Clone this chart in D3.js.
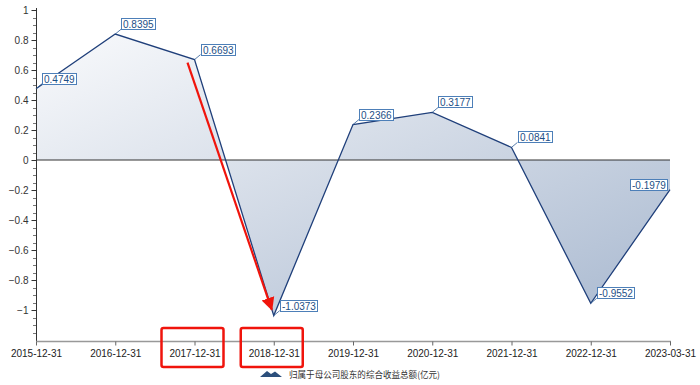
<!DOCTYPE html>
<html><head><meta charset="utf-8">
<script src="https://cdn.jsdelivr.net/npm/d3@7"></script>
<style>body{margin:0;background:#fff;}svg{display:block;}</style>
</head><body>
<svg id="c" width="700" height="385"></svg>
<script>
const categories = ["2015-12-31","2016-12-31","2017-12-31","2018-12-31","2019-12-31","2020-12-31","2021-12-31","2022-12-31","2023-03-31"];
const values = [0.4749, 0.8395, 0.6693, -1.0373, 0.2366, 0.3177, 0.0841, -0.9552, -0.1979];
const yTicks = [1, 0.8, 0.6, 0.4, 0.2, 0, -0.2, -0.4, -0.6, -0.8, -1];
const seriesName = "归属于母公司股东的综合收益总额(亿元)";
const highlighted = ["2017-12-31", "2018-12-31"];
const arrowFrom = "2017-12-31", arrowTo = "2018-12-31";

const svg = d3.select("#c");
const x = d3.scalePoint().domain(categories).range([36, 670]);
const y = d3.scaleLinear().domain([-1.2, 1]).range([340, 10]);
const font = "'Liberation Sans', Arial, sans-serif";

const defs = svg.append("defs");
const g = defs.append("linearGradient").attr("id","fillg").attr("x1","0").attr("y1","0").attr("x2","1").attr("y2","1");
g.append("stop").attr("offset","0").attr("stop-color","#f9fafc");
g.append("stop").attr("offset","0.5").attr("stop-color","#d2dae6");
g.append("stop").attr("offset","1").attr("stop-color","#a9b9d0");
defs.append("marker").attr("id","arr").attr("viewBox","0 0 10 10").attr("refX","9").attr("refY","5")
  .attr("markerWidth","6").attr("markerHeight","7").attr("orient","auto").attr("markerUnits","strokeWidth")
  .append("path").attr("d","M0,0 L10,5 L0,10 Z").attr("fill","#f0140c");

const data = categories.map((c,i)=>({c, v: values[i]}));

// area
svg.append("path").datum(data)
  .attr("d", d3.area().x(d=>x(d.c)).y0(y(0)).y1(d=>y(d.v)))
  .attr("fill","url(#fillg)");

// zero line
svg.append("line").attr("x1",x.range()[0]).attr("x2",x.range()[1]).attr("y1",y(0)).attr("y2",y(0))
  .attr("stroke","#333").attr("stroke-width",1.2);

// line
svg.append("path").datum(data)
  .attr("d", d3.line().x(d=>x(d.c)).y(d=>y(d.v)))
  .attr("fill","none").attr("stroke","#1f3f7a").attr("stroke-width",1.3);

// y axis minor ticks
const minor = d3.range(-1.2, 1.0001, 0.05).map(v=>+v.toFixed(2)).filter(v=>Math.abs(Math.round(v*5)-v*5)>1e-6);
svg.append("g").selectAll("line").data(minor).join("line")
  .attr("x1",33).attr("x2",36).attr("y1",d=>Math.round(y(d))+0.5).attr("y2",d=>Math.round(y(d))+0.5)
  .attr("stroke","#777");

// y axis
const ya = svg.append("g").attr("transform","translate(36.5,0)")
  .call(d3.axisLeft(y).tickValues(yTicks).tickSize(5).tickPadding(3).tickFormat(d3.format("")));
ya.select(".domain").attr("stroke","#333").attr("d","M0,8V341");
ya.selectAll(".tick line").attr("stroke","#333");
ya.selectAll("text").attr("font-family",font).attr("font-size",10).attr("fill","#333");

// x axis
const xa = svg.append("g").attr("transform","translate(0,341.5)")
  .call(d3.axisBottom(x).tickSize(4).tickPadding(4));
xa.select(".domain").attr("stroke","#999").attr("stroke-width",1.5).attr("d","M36,0H671");
xa.selectAll(".tick line").attr("stroke","#666");
xa.selectAll("text").attr("font-family",font).attr("font-size",10).attr("fill","#222");

// labels
const lab = svg.append("g");
data.forEach((d,i)=>{
  const px = x(d.c), py = y(d.v);
  const last = i === data.length-1;
  const gg = lab.append("g");
  const t = gg.append("text").text(d.v.toFixed(4))
    .attr("font-family",font).attr("font-size",10).attr("fill","#1d4f86");
  const w = t.node().getComputedTextLength() + 3;
  const h = 11;
  let bx, by;
  if (last) { bx = px - 3 - w; by = py - h; }
  else {
    bx = px + 6; by = py - 5 - h;
    gg.insert("line","text").attr("x1",px).attr("y1",py).attr("x2",bx).attr("y2",by+h)
      .attr("stroke","#2b5a94").attr("stroke-width",0.8);
  }
  gg.insert("rect","text").attr("x",Math.round(bx)+0.5).attr("y",Math.round(by)+0.5).attr("width",Math.round(w)).attr("height",h)
    .attr("fill","#fff").attr("stroke","#4d7fb8").attr("stroke-width",1);
  t.attr("x",Math.round(bx)+2).attr("y",Math.round(by)+9.5);
});

// red annotations
highlighted.forEach(c=>{
  svg.append("rect").attr("x",x(c)-33).attr("y",328).attr("width",62).attr("height",39).attr("rx",2)
    .attr("fill","none").attr("stroke","#f0140c").attr("stroke-width",2.5);
});
svg.append("line").attr("x1",x(arrowFrom)-7).attr("y1",y(values[categories.indexOf(arrowFrom)])+3)
  .attr("x2",x(arrowTo)-2).attr("y2",y(values[categories.indexOf(arrowTo)])-6)
  .attr("stroke","#f0140c").attr("stroke-width",2.2).attr("marker-end","url(#arr)");

// legend
const lg = svg.append("g");
lg.append("path").attr("d","M260,377 L267,371 L271,374 L275,371.5 L282,377 Z").attr("fill","#2c4f7c");
lg.append("text").attr("x",289).attr("y",377.5).text(seriesName)
  .attr("font-family","'Noto Sans CJK SC', sans-serif").attr("font-size",9).attr("fill","#333")
  .attr("textLength",151).attr("lengthAdjust","spacingAndGlyphs");
</script>
</body></html>
